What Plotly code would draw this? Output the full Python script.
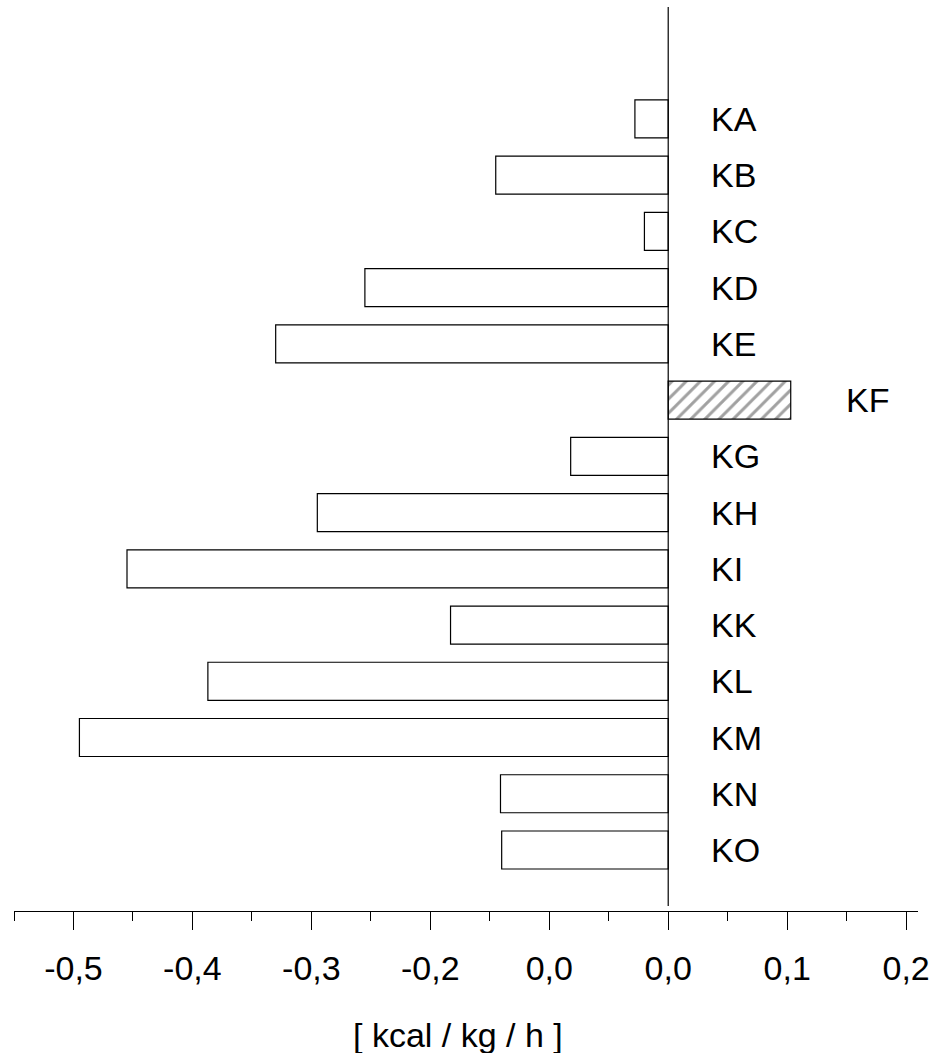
import plotly.graph_objects as go

# Heat-balance differences per group, kcal / kg / h
groups = ["KA", "KB", "KC", "KD", "KE", "KF", "KG",
          "KH", "KI", "KK", "KL", "KM", "KN", "KO"]
values = [-0.028, -0.145, -0.020, -0.255, -0.330, 0.103, -0.082,
          -0.295, -0.455, -0.183, -0.387, -0.495, -0.141, -0.140]

tick_vals = [-0.5, -0.4, -0.3, -0.2, -0.1, 0.0, 0.1, 0.2]
tick_text = ["-0,5", "-0,4", "-0,3", "-0,2", "0,0", "0,0", "0,1", "0,2"]
minor_vals = [-0.55, -0.45, -0.35, -0.25, -0.15, -0.05, 0.05, 0.15]

FONT = "Liberation Sans, Arial, sans-serif"
pos = list(range(len(groups)))

fills = ["white"] * len(groups)
shapes_pat = ["/" if v > 0 else "" for v in values]

fig = go.Figure()
fig.add_trace(go.Bar(
    x=values,
    y=pos,
    orientation="h",
    width=0.676,
    marker=dict(
        color=fills,
        line=dict(color="black", width=1.2),
        pattern=dict(shape=shapes_pat, fgcolor="black", bgcolor="white",
                     size=10, solidity=0.3),
    ),
    hoverinfo="skip",
    showlegend=False,
))

# group names to the right of the zero line (past the bar end for positive values)
for g, v, p in zip(groups, values, pos):
    lx = 0.0345 if v <= 0 else v + 0.045
    fig.add_annotation(x=lx, y=p, xref="x", yref="y", text=g,
                       showarrow=False, xanchor="left", yanchor="middle",
                       font=dict(family=FONT, size=34, color="black"))

# axis title
fig.add_annotation(x=(458 - 14) / 904, y=-(1035 - 911) / 904,
                   xref="paper", yref="paper", text="[ kcal / kg / h ]",
                   showarrow=False, xanchor="center", yanchor="middle",
                   font=dict(family=FONT, size=34, color="black"))

# vertical zero line
fig.add_shape(type="line", x0=0, x1=0, xref="x", yref="paper", y0=0.0055, y1=1,
              line=dict(color="black", width=1.2))

fig.update_layout(
    width=938, height=1053,
    margin=dict(l=14, r=20, t=7, b=142),
    paper_bgcolor="white", plot_bgcolor="white",
    font=dict(family=FONT, size=34, color="black"),
    xaxis=dict(
        range=[-0.55, 0.21],
        tickvals=tick_vals, ticktext=tick_text,
        ticks="outside", ticklen=18, tickwidth=1.2, tickcolor="black",
        ticklabelstandoff=9,
        minor=dict(tickvals=minor_vals, ticks="outside", ticklen=9,
                   tickwidth=1.2, tickcolor="black", showgrid=False),
        showline=True, linecolor="black", linewidth=1.2,
        showgrid=False, zeroline=False,
        tickfont=dict(family=FONT, size=34, color="black"),
    ),
    yaxis=dict(
        range=[14.085, -1.99],
        visible=False, showgrid=False, zeroline=False,
    ),
)

fig.write_html("out.html")
